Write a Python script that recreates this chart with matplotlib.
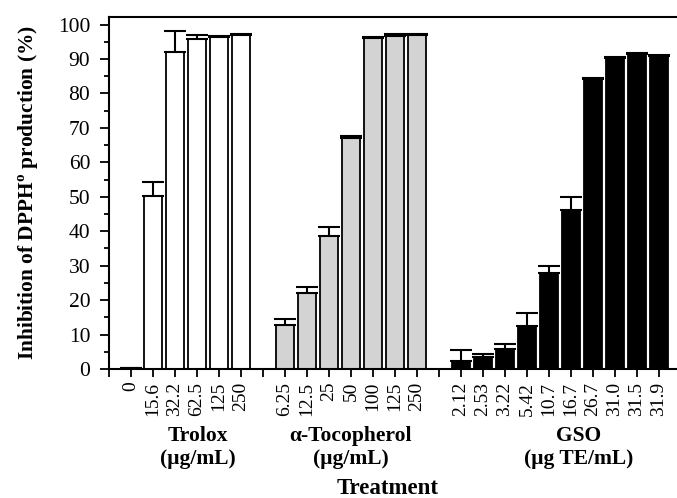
import matplotlib
matplotlib.use('Agg')
import matplotlib.pyplot as plt
import numpy as np

plt.rcParams['font.family'] = ['Liberation Serif', 'DejaVu Serif']
plt.rcParams['mathtext.fontset'] = 'custom'
plt.rcParams['mathtext.rm'] = 'Liberation Serif'
plt.rcParams['mathtext.bf'] = 'Liberation Serif:bold'

# data
trolox_labels = ['0', '15.6', '32.2', '62.5', '125', '250']
trolox_vals = [0.3, 50.1, 91.9, 95.7, 96.4, 97.0]
trolox_err = [0.0, 4.3, 6.3, 1.4, 0.4, 0.2]

toco_labels = ['6.25', '12.5', '25', '50', '100', '125', '250']
toco_vals = [12.8, 22.0, 38.6, 67.1, 96.1, 96.7, 97.1]
toco_err = [1.6, 1.7, 2.6, 0.6, 0.3, 0.5, 0.1]

gso_labels = ['2.12', '2.53', '3.22', '5.42', '10.7', '16.7', '26.7', '31.0', '31.5', '31.9']
gso_vals = [2.3, 3.5, 5.8, 12.6, 27.8, 46.2, 84.3, 90.4, 91.3, 90.9]
gso_err = [3.2, 1.0, 1.5, 3.7, 2.0, 3.6, 0.3, 0.2, 0.3, 0.2]

groups = [
    (trolox_labels, trolox_vals, trolox_err, 'white', 'Trolox', '(\u03bcg/mL)'),
    (toco_labels, toco_vals, toco_err, '#d3d3d3', '\u03b1-Tocopherol', '(\u03bcg/mL)'),
    (gso_labels, gso_vals, gso_err, 'black', 'GSO', '(\u03bcg TE/mL)'),
]

fig = plt.figure(figsize=(6.77, 4.98), dpi=100)
ax = fig.add_axes([0.161, 0.259, 0.839, 0.707])

ticks = [0]
ticklabels = ['']
label_x = [4.05, 11.0, 21.35]
start = 1
for k, (labs, vals, errs, col, name, unit) in enumerate(groups):
    pos = np.arange(start, start + len(labs))
    ax.bar(pos, vals, width=0.82, color=col, edgecolor='black', linewidth=1.3, zorder=2)
    ax.errorbar(pos, vals, yerr=[np.zeros(len(errs)), errs], fmt='none',
                ecolor='black', elinewidth=1.5, capsize=8, capthick=1.5, zorder=3)
    ticks += list(pos)
    ticklabels += labs
    ticks.append(start + len(labs))
    ticklabels.append('')
    ax.text(label_x[k], -0.19, name, transform=ax.get_xaxis_transform(),
            ha='center', va='center', fontsize=15.5, fontweight='bold')
    ax.text(label_x[k], -0.255, unit, transform=ax.get_xaxis_transform(),
            ha='center', va='center', fontsize=15.5, fontweight='bold')
    start += len(labs) + 1

ax.set_xticks(ticks)
ax.set_xticklabels(ticklabels, rotation=90, fontsize=14)
ax.set_xlim(0, 25.82)
ax.set_ylim(0, 102.2)
ax.set_yticks(np.arange(0, 101, 10))
ax.set_yticks(np.arange(5, 100, 10), minor=True)
ax.tick_params(axis='y', labelsize=15.5, width=1.3, length=6.5, pad=7)
ax.tick_params(axis='y', which='minor', width=1.3, length=3.5)
ax.tick_params(axis='x', width=1.3, length=6, pad=3)

for s in ['left', 'bottom', 'top']:
    ax.spines[s].set_linewidth(1.5)
ax.spines['right'].set_visible(False)

ax.set_ylabel('Inhibition of DPPH$^{\\mathbf{o}}$ production (%)', fontsize=15.4,
              fontweight='bold', labelpad=12)
ax.text(0.49, -0.338, 'Treatment', transform=ax.transAxes, ha='center',
        va='center', fontsize=16.5, fontweight='bold')

fig.savefig('out.png', dpi=100)
